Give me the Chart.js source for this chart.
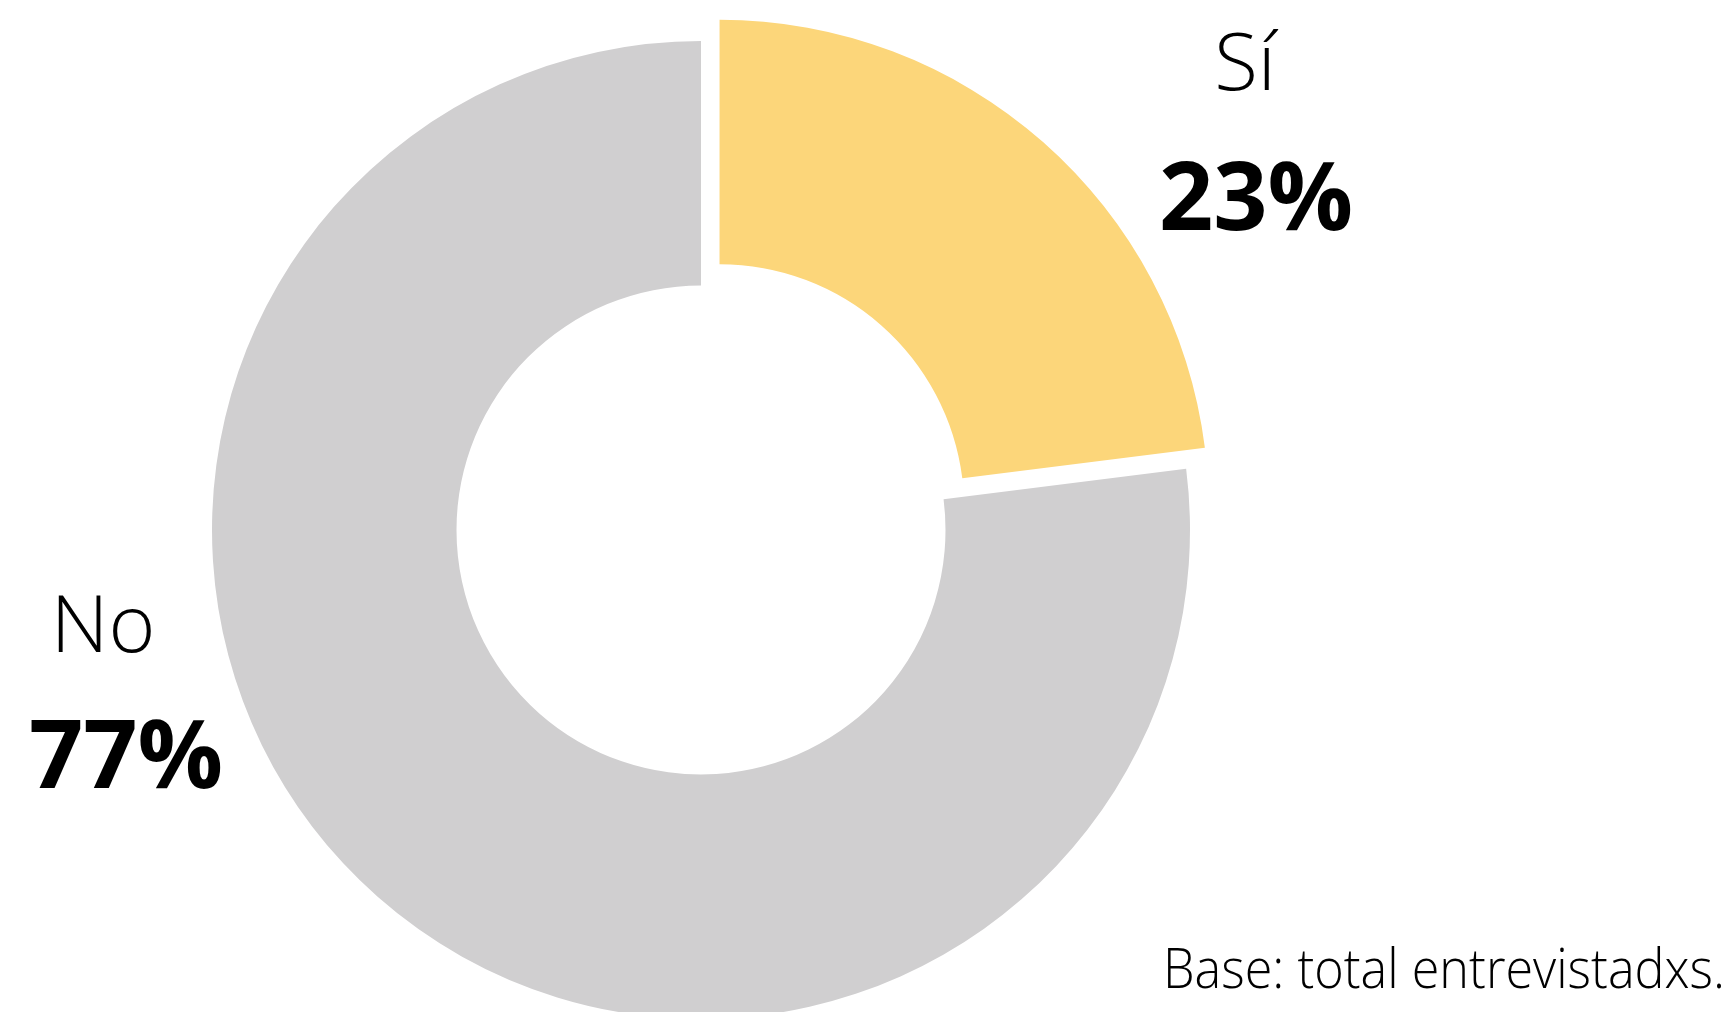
<!DOCTYPE html>
<html>
<head>
<meta charset="utf-8">
<script src="https://cdn.jsdelivr.net/npm/chart.js@4.4.1/dist/chart.umd.min.js"></script>
<style>
  html, body { margin: 0; padding: 0; background: #ffffff; }
  #wrap { width: 1734px; height: 1012px; position: relative; }
</style>
</head>
<body>
<div id="wrap"><canvas id="donut" width="1734" height="1012"></canvas></div>
<script>
// data
const labels = ['Sí', 'No'];
const values = [23, 77];
const colors = ['#FCD67A', '#D0CFD0'];
const offsets = [112, 0];
const footNote = 'Base: total entrevistadxs.';

// where each label block sits (center x of name / percent, baselines)
const labelPos = [
  { xName: 1245, yName: 90, xPct: 1256, yPct: 230 },
  { xName: 103, yName: 652, xPct: 126, yPct: 788 }
];

const labelPlugin = {
  id: 'labelPlugin',
  afterDraw(chart) {
    const ctx = chart.ctx;
    ctx.save();
    ctx.fillStyle = '#000000';
    ctx.textAlign = 'center';
    ctx.textBaseline = 'alphabetic';
    labels.forEach((lab, i) => {
      const p = labelPos[i];
      ctx.font = '300 80px "Open Sans"';
      ctx.fillText(lab, p.xName, p.yName);
      ctx.font = '700 95px "Open Sans"';
      ctx.fillText(values[i] + '%', p.xPct, p.yPct);
    });
    ctx.font = '300 56px "Open Sans"';
    ctx.textAlign = 'right';
    ctx.fillText(footNote, 1725, 988, 562);
    ctx.restore();
  }
};

const ctx = document.getElementById('donut').getContext('2d');
const donutChart = new Chart(ctx, {
  type: 'doughnut',
  data: {
    labels: labels,
    datasets: [{
      data: values,
      backgroundColor: colors,
      borderWidth: 0,
      offset: offsets,
      clip: false
    }]
  },
  options: {
    responsive: false,
    animation: false,
    events: [],
    cutout: '50%',
    radius: 489,
    layout: { padding: { left: 0, right: 332, top: 48, bottom: 0 } },
    plugins: {
      legend: { display: false },
      tooltip: { enabled: false }
    }
  },
  plugins: [labelPlugin]
});
</script>
</body>
</html>
